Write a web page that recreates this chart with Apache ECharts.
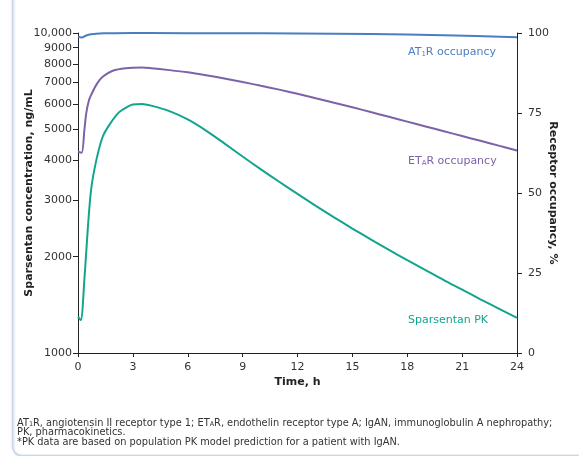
<!DOCTYPE html>
<html>
<head>
<meta charset="utf-8">
<script src="https://cdn.jsdelivr.net/npm/echarts@6/dist/echarts.min.js"></script>
<style>
html,body{margin:0;padding:0;background:#fff;}
#chart{width:579px;height:456px;}
</style>
</head>
<body>
<div id="chart"></div>
<script>
// ---- Data ----
var pkTime = [0, 0.15, 0.35, 0.53, 0.72, 1, 1.35, 1.75, 2.25, 2.75, 3, 3.5, 4, 5, 6, 7, 8, 9, 10, 11, 12, 13, 14, 15, 16, 17, 18, 19, 20, 21, 22, 23, 24];
var pkConc = [1300, 1268, 1700, 2420, 3250, 4000, 4740, 5200, 5660, 5900, 5975, 6000, 5930, 5702, 5370, 4955, 4519, 4111, 3750, 3428, 3141, 2884, 2655, 2449, 2265, 2099, 1950, 1816, 1690, 1578, 1472, 1377, 1288];

var etaTime = [0, 0.2, 0.35, 0.45, 0.6, 0.75, 1, 1.35, 1.9, 2.6, 3.5, 4, 5, 6, 7, 8, 9, 10, 11, 12, 13, 14, 15, 16, 17, 18, 19, 20, 21, 22, 23, 24];
var etaOcc  = [62.9, 62.6, 69.7, 74.9, 79, 81, 83.8, 86.3, 88.2, 89.0, 89.2, 89.0, 88.4, 87.7, 86.8, 85.8, 84.7, 83.5, 82.3, 81.0, 79.6, 78.2, 76.8, 75.3, 73.8, 72.3, 70.8, 69.3, 67.8, 66.3, 64.8, 63.3];

var at1Time = [0, 0.2, 0.45, 0.7, 1, 1.5, 2, 4, 8, 12, 16, 20, 24];
var at1Occ  = [98.8, 98.6, 99.2, 99.6, 99.8, 99.9, 99.95, 99.97, 99.93, 99.85, 99.7, 99.3, 98.7];

var xTicks = [0, 3, 6, 9, 12, 15, 18, 21, 24];
var concTicks = [1000, 2000, 3000, 4000, 5000, 6000, 7000, 8000, 9000, 10000];

function pairs(xs, ys){ return xs.map(function(x,i){ return [x, ys[i]]; }); }

var FONT = 'DejaVu Sans';
var AXIS_COLOR = '#222';
var LABEL_COLOR = '#333';
var C_AT1 = '#4a7ebf';
var C_ETA = '#7c62a8';
var C_PK = '#12a58e';

var chart = echarts.init(document.getElementById('chart'), null, {renderer:'canvas'});
var option = {
  animation: false,
  backgroundColor: '#fff',
  grid: {left: 78, right: 62, top: 33, bottom: 103, containLabel: false},
  xAxis: {
    type: 'value', min: 0, max: 24, interval: 3,
    name: 'Time, h', nameLocation: 'middle', nameGap: 24, nameMoveOverlap: false,
    nameTextStyle: {fontFamily: FONT, fontSize: 11, fontWeight: 'bold', color: '#222'},
    axisLine: {show: true, onZero: false, lineStyle: {color: AXIS_COLOR, width: 1}},
    axisTick: {show: true, inside: false, length: 4, lineStyle: {color: AXIS_COLOR}},
    axisLabel: {fontFamily: FONT, fontSize: 11, color: LABEL_COLOR, margin: 9,
      customValues: xTicks},
    splitLine: {show: false}
  },
  yAxis: [{
    type: 'log', logBase: 10, min: 1000, max: 10000, position: 'left',
    name: 'Sparsentan concentration, ng/mL', nameLocation: 'middle', nameGap: 43, nameMoveOverlap: false,
    nameTextStyle: {fontFamily: FONT, fontSize: 11, fontWeight: 'bold', color: '#222'},
    axisLine: {show: true, lineStyle: {color: AXIS_COLOR, width: 1}},
    axisTick: {show: true, inside: false, length: 5, customValues: concTicks, lineStyle: {color: AXIS_COLOR}},
    axisLabel: {fontFamily: FONT, fontSize: 11, color: LABEL_COLOR, margin: 6,
      customValues: concTicks,
      formatter: function(v){ return v >= 10000 ? '10,000' : String(Math.round(v)); }},
    splitLine: {show: false}
  }, {
    type: 'value', min: 0, max: 100, interval: 25, position: 'right',
    name: 'Receptor occupancy, %', nameLocation: 'middle', nameGap: 30, nameRotate: -90, nameMoveOverlap: false,
    nameTextStyle: {fontFamily: FONT, fontSize: 11, fontWeight: 'bold', color: '#222'},
    axisLine: {show: true, lineStyle: {color: AXIS_COLOR, width: 1}},
    axisTick: {show: true, inside: false, length: 5, lineStyle: {color: AXIS_COLOR}},
    axisLabel: {fontFamily: FONT, fontSize: 11, color: LABEL_COLOR, margin: 11},
    splitLine: {show: false}
  }],
  series: [{
    name: 'AT1R occupancy', type: 'line', yAxisIndex: 1, data: pairs(at1Time, at1Occ),
    smooth: 0.3, showSymbol: false, lineStyle: {color: C_AT1, width: 2}, itemStyle: {color: C_AT1}
  }, {
    name: 'ETAR occupancy', type: 'line', yAxisIndex: 1, data: pairs(etaTime, etaOcc),
    smooth: 0.3, showSymbol: false, lineStyle: {color: C_ETA, width: 2}, itemStyle: {color: C_ETA}
  }, {
    name: 'Sparsentan PK', type: 'line', yAxisIndex: 0, data: pairs(pkTime, pkConc),
    smooth: 0.3, showSymbol: false, lineStyle: {color: C_PK, width: 2}, itemStyle: {color: C_PK}
  }],
  graphic: [
    {type: 'rect', left: 10, top: -12, silent: true,
      shape: {width: 620, height: 465, r: 9},
      style: {fill: 'none', stroke: '#c8d7ec', lineWidth: 1.5, shadowBlur: 2, shadowColor: 'rgba(120,150,190,0.35)', shadowOffsetX: 1, shadowOffsetY: 1}},
    {type: 'text', left: 408, top: 47, silent: true,
      style: {text: 'AT{s|1}R occupancy', fill: C_AT1, fontFamily: FONT, fontSize: 11,
        rich: {s: {fontSize: 7, fill: C_AT1, fontFamily: FONT, verticalAlign: 'bottom', lineHeight: 7}}}},
    {type: 'text', left: 408, top: 156, silent: true,
      style: {text: 'ET{s|A}R occupancy', fill: C_ETA, fontFamily: FONT, fontSize: 11,
        rich: {s: {fontSize: 7, fill: C_ETA, fontFamily: FONT, verticalAlign: 'bottom', lineHeight: 7}}}},
    {type: 'text', left: 408, top: 315, silent: true,
      style: {text: 'Sparsentan PK', fill: C_PK, fontFamily: FONT, fontSize: 11}},
    {type: 'text', left: 17, top: 418, silent: true,
      style: {
        text: 'AT{s|1}R, angiotensin II receptor type 1; ET{s|A}R, endothelin receptor type A; IgAN, immunoglobulin A nephropathy;\nPK, pharmacokinetics.\n*PK data are based on population PK model prediction for a patient with IgAN.',
        fill: '#333', fontFamily: FONT, fontSize: 9.8, lineHeight: 9.8,
        rich: {s: {fontSize: 6.5, fill: '#333', fontFamily: FONT, verticalAlign: 'bottom', lineHeight: 6.5}}}}
  ]
};
chart.setOption(option);
</script>
</body>
</html>
